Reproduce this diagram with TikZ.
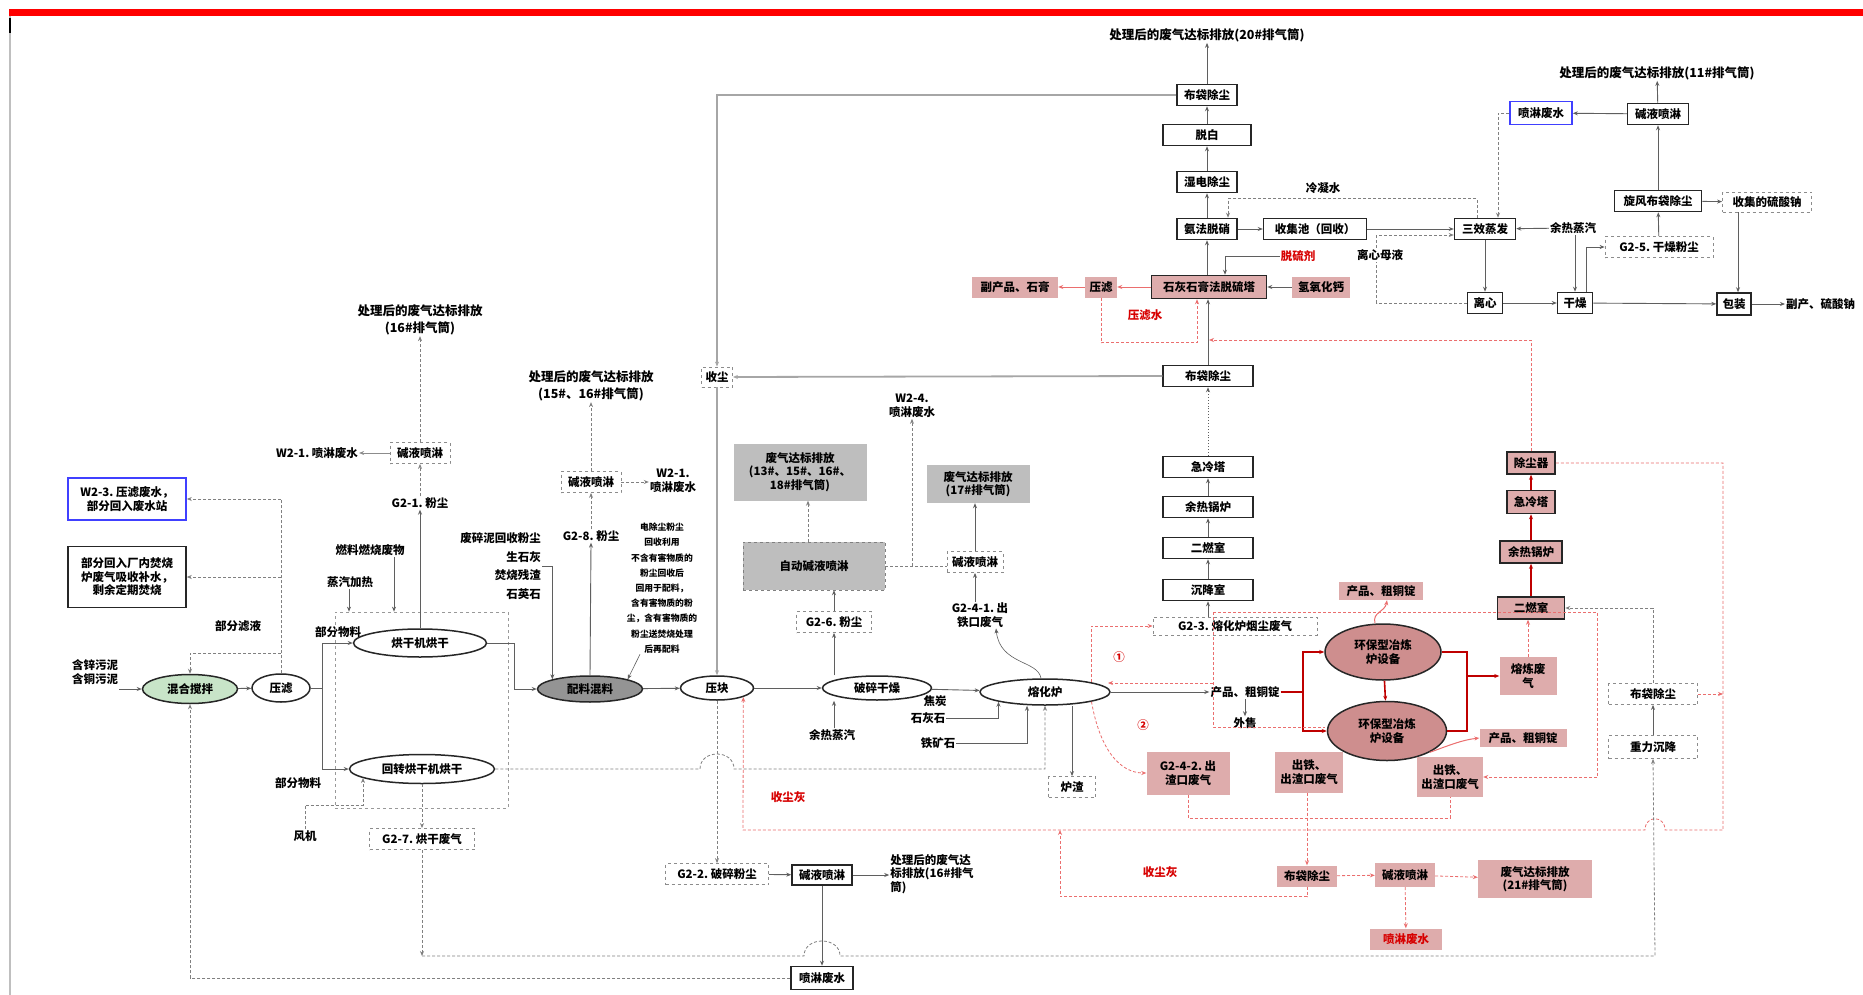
\documentclass[tikz,border=0pt]{standalone}
\usepackage{fontspec}
\newfontfamily\cjk{Noto Sans CJK SC}
\usetikzlibrary{arrows.meta,shapes.geometric,calc}
\definecolor{pk}{RGB}{222,172,172}
\definecolor{pkd}{RGB}{206,142,142}
\definecolor{gfill}{RGB}{190,190,190}
\definecolor{grn}{RGB}{200,228,200}
\definecolor{ln}{RGB}{95,95,95}
\definecolor{rln}{RGB}{235,110,110}
\definecolor{redt}{RGB}{215,0,0}
\begin{document}
\begin{tikzpicture}[x=1pt,y=-1pt,>={Stealth[length=5pt,width=4pt]},
 txt/.style={font=\cjk\bfseries\fontsize{11.5}{13.5}\selectfont, align=center, inner sep=1pt},
 big/.style={txt, font=\cjk\bfseries\fontsize{12.5}{16.5}\selectfont},
 bx/.style={txt, draw=black!85, line width=1.5pt, fill=white, minimum width=#1, minimum height=21pt}, bx/.default=60pt,
 dbx/.style={txt, draw=black!45, dashed, line width=0.8pt, fill=white, minimum width=#1, minimum height=21pt}, dbx/.default=60pt,
 pbx/.style={txt, draw=black!85, line width=1.5pt, fill=pk, minimum width=#1, minimum height=22pt}, pbx/.default=60pt,
 pf/.style={txt, fill=pk, minimum width=#1, minimum height=21pt}, pf/.default=60pt,
 el/.style={txt, ellipse, draw=black!85, line width=1.5pt, fill=white, minimum width=#1, minimum height=28pt, inner sep=0pt}, el/.default=60pt,
 ar/.style={->, draw=ln, line width=0.9pt},
 gl/.style={draw=ln, line width=0.9pt},
 dar/.style={->, draw=black!50, line width=0.8pt, dash pattern=on 3pt off 2pt},
 dl/.style={draw=black!50, line width=0.8pt, dash pattern=on 3pt off 2pt},
 rar/.style={->, draw=rln, line width=0.8pt, dash pattern=on 3pt off 2pt},
 rdl/.style={draw=rln, line width=0.8pt, dash pattern=on 3pt off 2pt},
 rthick/.style={draw=red!75!black, line width=1.6pt},
 thg/.style={->, draw=black!35, line width=1.8pt}]
\useasboundingbox (0,0) rectangle (1863,995);
\fill[white] (0,0) rectangle (1863,995);
\fill[red] (9,9) rectangle (1863,16);
\draw[black!25, line width=1.5pt] (10,16) -- (10,995);
\draw[black, line width=2pt] (10,18) -- (10,33);

% ---------------- top flue-gas column
\node[big] (t20) at (1207,35) {处理后的废气达标排放(20\#排气筒)};
\node[bx=60pt] (bd1) at (1207,95) {布袋除尘};
\node[bx=88pt] (tb) at (1207,135) {脱白};
\node[bx=60pt] (sd) at (1207,182) {湿电除尘};
\node[bx=60pt] (tx) at (1207,229) {氨法脱硝};
\node[bx=103pt] (hs) at (1315,229) {收集池（回收）};
\node[pbx=115pt, minimum height=23pt] (ts) at (1209,287) {石灰石膏法脱硫塔};
\node[pf=32pt] (yl2) at (1101,287) {压滤};
\node[pf=86pt] (fcsg) at (1015,287) {副产品、石膏};
\node[pf=58pt] (qy) at (1321,287) {氢氧化钙};
\node[txt,text=redt] (tlj) at (1298,256) {脱硫剂};
\node[txt,text=redt] (ylw) at (1145,315) {压滤水};
\node[txt] (lns) at (1323,188) {冷凝水};

\draw[ar] (bd1) -- (t20);
\draw[ar] (tb) -- (bd1);
\draw[ar] (sd) -- (tb);
\draw[ar] (tx) -- (sd);
\draw[ar] (ts.north -| tx.south) -- (tx.south);
\draw[ar] (tx) -- (hs);
\draw[ar] (tlj.west) -| ([xshift=16pt]ts.north);
\draw[ar] (qy) -- (ts);
\draw[->, draw=rln, line width=1pt] (ts) -- (yl2);
\draw[->, draw=rln, line width=1pt] (yl2) -- (fcsg);
\draw[rar] (yl2.south) -- ++(0,45) -| ([xshift=-12pt]ts.south);

% ---------------- top right
\node[big] (t11) at (1657,73) {处理后的废气达标排放(11\#排气筒)};
\node[bx=61pt] (jy2) at (1658,114) {碱液喷淋};
\node[txt, draw=blue!75, line width=1.6pt, fill=white, minimum width=62pt, minimum height=23pt] (blue) at (1541,113) {喷淋废水};
\node[bx=87pt] (xf) at (1658,201) {旋风布袋除尘};
\node[dbx=89pt, minimum height=20pt] (sj) at (1767,202) {收集的硫酸钠};
\node[bx=61pt] (sx) at (1485,229) {三效蒸发};
\node[txt] (yrzq) at (1573,228) {余热蒸汽};
\node[dbx=108pt] (g25) at (1659,247) {G2-5.\ 干燥粉尘};
\node[bx=35pt] (lx) at (1485,303) {离心};
\node[bx=35pt] (gz) at (1575,303) {干燥};
\node[bx=34pt, minimum height=22pt] (bz) at (1734,304) {包装};
\node[txt, anchor=west] (fcna) at (1785,304) {副产、硫酸钠};

\draw[ar] (hs) -- (sx);
\draw[dar] ([xshift=-8pt]sx.north) -- ++(0,-19) -| ([xshift=21pt]tx.north);
\draw[dar] (blue.west) -| ([xshift=13pt]sx.north);
\draw[ar] (jy2) -- (blue);
\draw[ar] (jy2) -- (t11);
\draw[ar] (xf) -- (jy2);
\draw[ar] (g25) -- (xf);
\draw[ar] (xf) -- (sj);
\coordinate (bzn) at ([xshift=4pt]bz.north);
\draw[ar] (bzn |- sj.south) -- (bzn);
\draw[ar] (yrzq) -- (sx);
\draw[ar] (gz.north |- yrzq.south) -- (gz.north);
\draw[ar] ([xshift=11pt]gz.north) |- (g25.west);
\draw[ar] (sx) -- (lx);
\draw[ar] (lx) -- (gz);
\draw[ar] (gz) -- (bz);
\draw[ar] (bz) -- (fcna);
\draw[dar] (lx.west) -- ++(-90,0) |- ([yshift=-6pt]sx.west);
\node[txt, fill=white] (lxmy) at (1380,255) {离心母液};

% ---------------- middle column
\node[bx=90pt] (bd2) at (1208,376) {布袋除尘};
\node[bx=90pt] (jl) at (1208,467) {急冷塔};
\node[bx=90pt] (yr) at (1208,507) {余热锅炉};
\node[bx=90pt] (er) at (1208,548) {二燃室};
\node[bx=90pt] (cj) at (1208,590) {沉降室};
\node[dbx=164pt, minimum height=18pt] (g23) at (1235,626) {G2-3.\ 熔化炉烟尘废气};
\draw[ar] (cj.south |- g23.north) -- (cj.south);
\draw[ar] (cj) -- (er);
\draw[ar] (er) -- (yr);
\draw[ar] (yr) -- (jl);
\draw[->, draw=ln, line width=0.9pt, dotted] (jl) -- (bd2);
\draw[ar] (bd2.north) -- (bd2.north |- ts.south);

% ---------------- red column
\node[pbx=48pt] (ccq) at (1531,463) {除尘器};
\node[pbx=48pt, minimum height=23pt] (jlt) at (1531,502) {急冷塔};
\node[pbx=62pt] (yrgl) at (1531,552) {余热锅炉};
\node[pbx=67pt] (erc) at (1531,608) {二燃室};
\draw[->, draw=red!75!black, line width=1.2pt] (erc) -- (yrgl);
\draw[->, draw=red!75!black, line width=1.2pt] (yrgl) -- (jlt);
\draw[->, draw=red!75!black, line width=1.2pt] (jlt) -- (ccq);
\coordinate (j340) at (1209,340);
\draw[rar] (ccq.north) |- (j340);

% ---------------- left part
\node[big] (t16a) at (420,320) {处理后的废气达标排放\\(16\#排气筒)};
\node[dbx=60pt] (jy1) at (420,453) {碱液喷淋};
\node[txt] (w21a) at (317,453) {W2-1.\ 喷淋废水};
\node[txt] (g21) at (420,503) {G2-1.\ 粉尘};
\node[txt, draw=blue!75, line width=1.6pt, fill=white, minimum width=118pt, minimum height=42pt] (w23) at (127,499) {W2-3.\ 压滤废水，\\部分回入废水站};
\node[bx=118pt, minimum height=61pt] (bfy) at (127,577) {部分回入厂内焚烧\\炉废气吸收补水，\\剩余定期焚烧};
\node[txt] (rl) at (370,550) {燃料燃烧废物};
\node[txt] (zq) at (350,582) {蒸汽加热};
\node[txt] (bflq) at (238,626) {部分滤液};
\node[txt] (wn) at (95,672) {含锌污泥\\含铜污泥};
\node[el=95pt, minimum height=29pt, fill=grn] (hh) at (190,689) {混合搅拌};
\node[el=58pt] (yl) at (281,688) {压滤};
\node[txt] (wl1) at (338,632) {部分物料};
\node[txt] (wl2) at (298,783) {部分物料};
\node[draw=black!40, dashed, line width=0.7pt, minimum width=173pt, minimum height=196pt] (dfr) at (421.5,710) {};
\node[el=133pt] (hg1) at (420,643) {烘干机烘干};
\node[el=145pt, minimum height=29pt] (hg2) at (422,769) {回转烘干机烘干};
\node[txt] (fj) at (305,836) {风机};
\node[dbx=105pt] (g27) at (422,839) {G2-7.\ 烘干废气};

\draw[ar] (wn.east |- hh.west) -- (hh.west);
\draw[ar] (hh) -- (yl);
\draw[gl] (yl.east) -- ++(12,0) coordinate (ylj);
\draw[ar] (ylj) |- (hg1.west);
\draw[ar] (ylj) |- (hg2.west);
\draw[dl] (yl.north) -- (yl.north |- w23.east);
\draw[dar] (yl.north |- w23.east) -- (w23.east);
\draw[dar] (yl.north |- bfy.east) -- (bfy.east);
\draw[dar] (yl.north |- 0,653) -| (hh.north);
\draw[ar] (rl.south -| 394,0) -- (dfr.north -| 394,0);
\draw[ar] (zq.south -| 349,0) -- (dfr.north -| 349,0);
\draw[ar] (hg1.north) -- (g21.south);
\draw[dar] (g21.north) -- (jy1.south);
\draw[dar] (jy1.north) -- (t16a.south);
\draw[ar, draw=black!45] (jy1.west) -- (w21a.east);
\draw[dar] (hg2.south) -- (g27.north);
\coordinate (hg2in) at (363,778);
\draw[dar] (fj.north) |- (363,805) -- (hg2in);

% ---------------- centre-left
\node[big] (t15) at (591,386) {处理后的废气达标排放\\(15\#、16\#排气筒)};
\node[dbx=60pt] (jy3) at (591,482) {碱液喷淋};
\node[txt] (w21b) at (673,481) {W2-1.\\喷淋废水};
\node[txt] (g28) at (591,536) {G2-8.\ 粉尘};
\node[txt, font=\cjk\bfseries\fontsize{8.8}{15.2}\selectfont] (note) at (662,588) {电除尘粉尘\\回收利用\\不含有害物质的\\粉尘回收后\\回用于配料，\\含有害物质的粉\\尘，含有害物质的\\粉尘送焚烧处理\\后再配料};
\node[txt, align=right, anchor=east, font=\cjk\bfseries\fontsize{11.5}{18.5}\selectfont] (inp) at (542,566) {废碎泥回收粉尘\\生石灰\\焚烧残渣\\石英石};
\node[el=105pt, minimum height=26pt, fill=black!42] (pl) at (590,689) {配料混料};
\node[dbx=31pt, minimum height=20pt] (sc) at (717,377) {收尘};
\node[el=73pt, minimum height=24pt] (yk) at (717,688) {压块};
\node[el=109pt, minimum height=24pt] (psgz) at (877,688) {破碎干燥};
\node[txt] (yrzq2) at (832,735) {余热蒸汽};
\node[dbx=75pt] (g26) at (834,622) {G2-6.\ 粉尘};
\node[txt, draw=black!50, dashed, fill=gfill, minimum width=142pt, minimum height=48pt] (zdjy) at (814,566) {自动碱液喷淋};
\node[txt, fill=gfill, minimum width=133pt, minimum height=57pt] (fq1) at (800,472) {废气达标排放\\(13\#、15\#、16\#、\\18\#排气筒)};
\node[txt] (w24) at (912,406) {W2-4.\\喷淋废水};
\node[dbx=56pt] (jy4) at (975,562) {碱液喷淋};
\node[txt, fill=gfill, minimum width=103pt, minimum height=38pt] (fq2) at (978,484) {废气达标排放\\(17\#排气筒)};
\node[txt] (g241) at (980,615) {G2-4-1.\ 出\\铁口废气};

\draw[ar] (hg1.east) -- ++(27,0) |- (pl.west);
\draw[ar] (inp.east) -| (pl.north west);
\draw[ar] (pl.north) -- (g28.south);
\draw[dar] (g28.north) -- (jy3.south);
\draw[dar] (jy3.north) -- (t15.south);
\draw[dar] (jy3.east) -- (w21b.west |- jy3.east);
\draw[ar, line width=0.6pt] ([xshift=-22pt]note.south) -- (pl.north east);
\draw[ar] (pl) -- (yk);
\draw[ar] (yk) -- (psgz);
\draw[thg] (bd1.west) -| (sc.north);
\draw[thg] (bd2.west) -- (sc.east);
\draw[thg] (sc.south) -- (yk.north);
\draw[ar] (psgz.north -| g26.south) -- (g26.south);
\draw[ar] (yrzq2.north -| g26.south) -- (psgz.south -| g26.south);
\draw[ar] (g26.north) -- (g26.north |- zdjy.south);
\draw[dar] (zdjy.north -| 808,0) -- (fq1.south -| 808,0);
\draw[ar] (jy4.south |- g241.north) -- (jy4.south);
\draw[ar] (jy4.north) -- (jy4.north |- fq2.south);
\draw[dl] (zdjy.east) -- (zdjy.east -| jy4.west);
\draw[dar] (zdjy.east -| w24.south) -- (w24.south);

% ---------------- smelting
\node[el=130pt, minimum height=26pt] (rh) at (1045,692) {熔化炉};
\node[txt] (jt) at (935,701) {焦炭};
\node[txt] (shs) at (928,718) {石灰石};
\node[txt] (tks) at (938,743) {铁矿石};
\node[dbx=47pt] (lz) at (1072,787) {炉渣};
\node[txt] (cp) at (1245,692) {产品、粗铜锭};
\node[txt] (ws) at (1245,723) {外售};
\draw[ar] (psgz) -- (rh);
\draw[ar] (shs.east) -| (rh.south west);
\draw[ar] (tks.east) -| ([xshift=-18pt]rh.south);
\draw[ar] (lz.north |- rh.south) -- (lz.north);
\draw[ar] (rh) -- (cp);
\draw[ar] (cp) -- (ws);
\draw[ar, line width=0.6pt] ([xshift=-4pt]rh.north) .. controls (1038,660) and (1000,665) .. ([xshift=16pt]g241.south);

\node[el=116pt, minimum height=56pt, fill=pkd] (r1) at (1383,652) {环保型冶炼\\炉设备};
\node[el=119pt, minimum height=59pt, fill=pkd] (r2) at (1387,731) {环保型冶炼\\炉设备};
\node[pf=84pt, minimum height=18pt] (cp1) at (1381,591) {产品、粗铜锭};
\node[pf=87pt, minimum height=18pt] (cp2) at (1523,738) {产品、粗铜锭};
\node[pf=57pt, minimum height=38pt] (yc) at (1528,676) {熔炼废\\气};
\coordinate (rj) at (1303,692);
\draw[rthick] (cp.east) -- (rj);
\draw[rthick,->] (rj) |- (r1.west);
\draw[rthick,->] (rj) |- (r2.west);
\draw[rthick,->] (r1) -- (r2);
\draw[rthick] (r1.east) -- (1467,652) -- (1467,731) -- (r2.east);
\draw[rthick,->] (1467,676) -- (yc.west);
\draw[->, draw=rln, line width=1pt] ([xshift=-8pt]r1.north) .. controls (1372,612) and (1385,612) .. ([xshift=6pt]cp1.south);
\draw[->, draw=rln, line width=1pt] (r2.south east) .. controls (1450,745) and (1462,740) .. (cp2.west);
\draw[rar] (yc.north) -- (yc.north |- erc.south);

% circled markers and exhaust branches
\node[txt, text=redt] (c1) at (1119,657) {①};
\node[txt, text=redt] (c2) at (1143,725) {②};
\draw[rar] (rh.north east) |- (g23.west);
\node[pf=83pt, minimum height=43pt] (g242) at (1188,773) {G2-4-2.\ 出\\渣口废气};
\draw[rar] (rh.south east) .. controls (1100,750) and (1120,773) .. (g242.west);
\node[pf=68pt, minimum height=41pt] (ct1) at (1309,772) {出铁、\\出渣口废气};
\node[pf=66pt, minimum height=40pt] (ct2) at (1450,777) {出铁、\\出渣口废气};
\draw[rdl] (g242.south) |- (1450,818) -- (ct2.south);
\node[pf=60pt] (bd4) at (1307,876) {布袋除尘};
\node[pf=60pt, minimum height=24pt] (jy5) at (1405,875) {碱液喷淋};
\node[pf=114pt, minimum height=38pt] (fq3) at (1535,879) {废气达标排放\\(21\#排气筒)};
\node[pf=72pt, text=redt] (pl2) at (1406,939) {喷淋废水};
\draw[rar] (bd4.north |- ct1.south) -- (bd4.north);
\draw[rar] (bd4) -- (jy5);
\draw[rar] (jy5) -- (fq3);
\draw[rar] (jy5) -- (pl2);
\coordinate (scj) at (1060,830);
\draw[rar] (bd4.south) -- ++(0,10) -| (scj);
\node[txt, text=redt] (scn2) at (1160,872) {收尘灰};
\draw[rdl] (1213,612) -- (1213,727) -- (1325,727);
\draw[rar] (1213,683) -- (1108,683);
\draw[rdl] (1213,612) -- (1597,612) -- (1597,777);
\draw[rar] (1597,777) -- (ct2.east);

% ---------------- right side dust/gas
\node[dbx=89pt] (bd3) at (1653,694) {布袋除尘};
\node[dbx=89pt, minimum height=23pt] (zl) at (1653,747) {重力沉降};
\draw[ar] (zl) -- (bd3);
\draw[rar] (bd3.east) -- (bd3.east -| 1723,0);
\draw[dar] (bd3.north) |- (erc.east);
\draw[rar] (ccq.east) -- (1723,463) -- (1723,830) -- (1665,830) .. controls (1665,815) and (1645,815) .. (1645,830) -- (743,830) -- (yk.south east);
\node[txt, text=redt] (scn1) at (788,797) {收尘灰};

% ---------------- bottom
\node[dbx=103pt] (g22) at (717,874) {G2-2.\ 破碎粉尘};
\node[bx=60pt, minimum height=20pt] (jy6) at (822,875) {碱液喷淋};
\node[txt, align=left] (t16b) at (932,874) {处理后的废气达\\标排放(16\#排气\\筒)};
\node[bx=62pt, minimum height=23pt] (plfs) at (822,978) {喷淋废水};
\draw[dar] (yk.south) -- (g22.north);
\draw[ar] (g22) -- (jy6);
\draw[ar] (jy6.east) -- (jy6.east -| t16b.west);
\draw[ar] (jy6) -- (plfs);
\draw[dar] (plfs.west) -| (hh.south);
\draw[dar] (g27.south) -- (422,956);
\draw[dar] (422,956) -- (804,956) .. controls (804,936) and (840,936) .. (840,956) -- (1655,956) -- (zl.south);
\draw[dar] (hg2.east) -- (700,769) .. controls (700,749) and (734,749) .. (734,769) -- (1045,769) -- (rh.south);
\end{tikzpicture}
\end{document}
